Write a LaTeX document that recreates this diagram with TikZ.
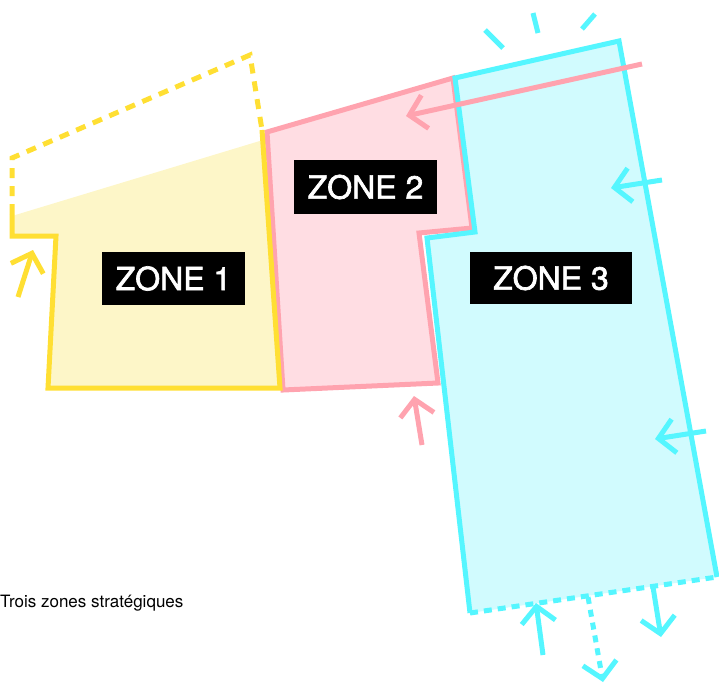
\documentclass[tikz,border=0pt]{standalone}
\usepackage{fontspec}
\setmainfont{TeX Gyre Heros}
\newfontfamily\zonefont[FakeBold=2]{TeX Gyre Heros}
\usetikzlibrary{arrows.meta}
\definecolor{yline}{HTML}{FFDF33}
\definecolor{yfill}{HTML}{FDF6C8}
\definecolor{pline}{HTML}{FFA3AF}
\definecolor{pfill}{HTML}{FFDDE3}
\definecolor{cline}{HTML}{55F6FF}
\definecolor{cfill}{HTML}{D1FBFE}

\begin{document}
\begin{tikzpicture}[x=1pt,y=-1pt]
\tikzstyle{outline}=[line width=5pt,line join=miter]
\tikzstyle{dashline}=[outline,dash pattern=on 10pt off 8pt]
\tikzstyle{flow}=[line width=5pt,-{Straight Barb[length=16pt,width=34pt]}]
\tikzstyle{zonelabel}=[fill=black,text=white,inner sep=0pt,font=\zonefont\fontsize{32}{32}\selectfont]
\useasboundingbox (0,0) rectangle (719,686);
% zone 2
\filldraw[fill=pfill,draw=pline,outline] (267,132) -- (453,78) -- (472,228) -- (419,233) -- (438,383) -- (283,390) -- cycle;
% zone 1
\fill[yfill] (12,216) -- (263,140) -- (280,388) -- (48,388) -- (56,236) -- (12,236) -- cycle;
\draw[yline,dashline] (12,214) -- (12,158) -- (250,55) -- (262,130);
\draw[yline,outline] (262,130) -- (280,388) -- (48,388) -- (56,236) -- (12,236) -- (12,214);
% zone 3
\fill[cfill] (455,78) -- (619,41) -- (717,577) -- (470,613) -- (427,238) -- (475,232) -- cycle;
\draw[cline,outline] (717,577) -- (619,41) -- (455,78) -- (475,232) -- (427,238) -- (470,613);
\draw[cline,outline,dash pattern=on 8pt off 6pt] (470,613) -- (717,577);
\draw[cline,line width=5pt] (485,30) -- (503,48);
\draw[cline,line width=5pt] (533,13) -- (538,33);
\draw[cline,line width=5pt] (595,14) -- (582,29);
% arrows
\coordinate (Y_in) at (18,297);
\coordinate (Y_end) at (33,250);
\coordinate (P_in) at (642,64);
\coordinate (P_end) at (406,116);
\coordinate (P_low) at (422,445);
\coordinate (P_edge) at (414,396);
\coordinate (C_r1) at (662,180);
\coordinate (C_e1) at (611,188);
\coordinate (C_r2) at (706,431);
\coordinate (C_e2) at (655,439);
\coordinate (C_b1) at (543,655);
\coordinate (C_e3) at (536,603);
\coordinate (C_b2) at (588,597);
\coordinate (C_e4) at (603,682);
\coordinate (C_b3) at (653,587);
\coordinate (C_e5) at (661,637);
\draw[flow,yline] (Y_in) -- (Y_end);
\draw[flow,pline] (P_in) -- (P_end);
\draw[flow,pline] (P_low) -- (P_edge);
\draw[flow,cline] (C_r1) -- (C_e1);
\draw[flow,cline] (C_r2) -- (C_e2);
\draw[flow,cline] (C_b1) -- (C_e3);
\draw[flow,cline,dash pattern=on 7pt off 6pt] (C_b2) -- (C_e4);
\draw[flow,cline] (C_b3) -- (C_e5);
% labels
\node[zonelabel,minimum width=143pt,minimum height=53pt] (Z_1) at (173.5,278.5) {ZONE 1};
\node[zonelabel,minimum width=143pt,minimum height=54pt] (Z_2) at (365.5,187) {ZONE 2};
\node[zonelabel,minimum width=162pt,minimum height=52pt] (Z_3) at (551,278) {ZONE 3};
\node[anchor=base west,inner sep=0pt,font=\fontsize{17}{17}\selectfont] (caption) at (0,607) {Trois zones stratégiques};
\end{tikzpicture}
\end{document}
